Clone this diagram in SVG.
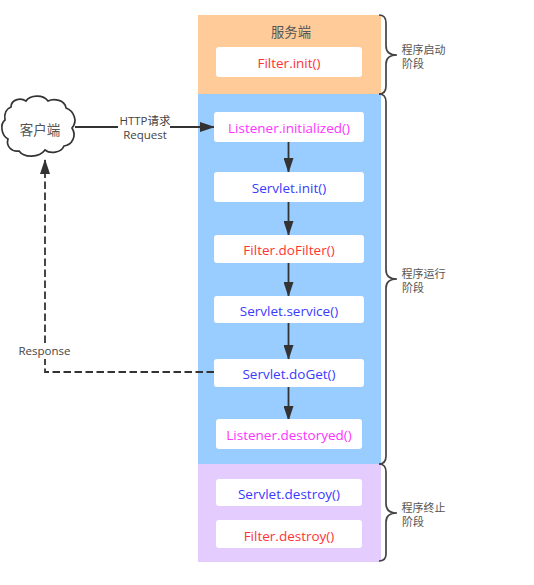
<svg xmlns="http://www.w3.org/2000/svg" width="534" height="585" viewBox="0 0 534 585">
<style>
text{font-family:"Open Sans","Noto Sans CJK SC",sans-serif;text-anchor:middle}
.m{font-size:13.5px}
.box{fill:#fff}
.r{fill:#ff3333}.p{fill:#ff33ff}.b{fill:#3a3aff}
.g{fill:#555;font-size:11px}
.d{fill:#444;font-size:11.5px}
.c{fill:none;stroke:#333;stroke-width:1.8}
.br{fill:none;stroke:#444;stroke-width:1.7}
</style>
<defs>
<marker id="a" markerUnits="userSpaceOnUse" markerWidth="15" markerHeight="10" refX="14" refY="5" orient="auto"><path d="M0 0L15 5L0 10z" fill="#333"/></marker>
</defs>
<g id="band-server"><rect x="198" y="15" width="183" height="79" fill="#ffcc99"/><text x="291" y="37" font-size="13.300" fill="#555">服务端</text></g>
<g id="band-run"><rect x="198" y="94" width="183" height="370" fill="#99ccff"/></g>
<g id="band-stop"><rect x="198" y="464" width="183" height="98" fill="#e5ccff"/></g>
<g id="connectors">
<path class="c" d="M75 127H214" marker-end="url(#a)"/>
<path class="c" d="M288.500 142V172" marker-end="url(#a)"/>
<path class="c" d="M288.500 202V235" marker-end="url(#a)"/>
<path class="c" d="M288.500 263V296" marker-end="url(#a)"/>
<path class="c" d="M288.500 323V359" marker-end="url(#a)"/>
<path class="c" d="M288.500 387V420" marker-end="url(#a)"/>
<path class="c" stroke-dasharray="7.500 3.500" d="M214 372H45V160" marker-end="url(#a)"/>
</g>
<g id="client"><path d="M11 107C11 100 20 97 26 101C30 95 43 94 48 101C54 98 65 100 66 108C74 111 78 121 72 128C77 136 72 145 64 146C61 153 50 154 45 150C39 158 24 158 19 151C11 152 6 146 8 139C1 135 0 124 5 120C4 114 6 109 11 107Z" fill="#fff" stroke="#333" stroke-width="1.7"/><text x="40" y="135" font-size="13.500" fill="#555">客户端</text></g>
<g id="label-http"><rect x="118" y="113" width="52" height="29" fill="#fff"/><text class="d" x="145" y="125">HTTP请求</text><text class="d" x="145" y="139">Request</text></g>
<g id="label-response"><rect x="18" y="343" width="53" height="16" fill="#fff"/><text class="d" x="44.500" y="355">Response</text></g>
<g id="filter-init"><rect class="box" x="216" y="47" width="146" height="30" rx="3"/><text class="m r" x="289" y="68">Filter.init()</text></g>
<g id="listener-init"><rect class="box" x="214" y="112" width="150" height="30" rx="3"/><text class="m p" x="289" y="133">Listener.initialized()</text></g>
<g id="servlet-init"><rect class="box" x="214" y="172" width="150" height="30" rx="3"/><text class="m b" x="289" y="193">Servlet.init()</text></g>
<g id="filter-dofilter"><rect class="box" x="214" y="235" width="150" height="28" rx="3"/><text class="m r" x="289" y="255">Filter.doFilter()</text></g>
<g id="servlet-service"><rect class="box" x="214" y="296" width="150" height="27" rx="3"/><text class="m b" x="289" y="316">Servlet.service()</text></g>
<g id="servlet-doget"><rect class="box" x="214" y="359" width="150" height="28" rx="3"/><text class="m b" x="289" y="379">Servlet.doGet()</text></g>
<g id="listener-destroyed"><rect class="box" x="216" y="419" width="146" height="30" rx="3"/><text class="m p" x="289" y="440">Listener.destoryed()</text></g>
<g id="servlet-destroy"><rect class="box" x="216" y="479" width="146" height="27" rx="3"/><text class="m b" x="289" y="499">Servlet.destroy()</text></g>
<g id="filter-destroy"><rect class="box" x="216" y="520" width="146" height="28" rx="3"/><text class="m r" x="289" y="541">Filter.destroy()</text></g>
<g id="brace-start"><path class="br" d="M379 15C384 15 386 18 386 23V46C386 51 389 55 397 55C389 55 386 59 386 64V86C386 91 384 94 379 94"/><text class="g" x="423.500" y="54">程序启动</text><text class="g" x="413" y="68">阶段</text></g>
<g id="brace-run"><path class="br" d="M379 94C384 94 386 97 386 102V270C386 275 389 279 397 279C389 279 386 283 386 288V456C386 461 384 464 379 464"/><text class="g" x="423.500" y="278">程序运行</text><text class="g" x="413" y="292">阶段</text></g>
<g id="brace-stop"><path class="br" d="M379 464C384 464 386 467 386 472V504C386 509 389 513 397 513C389 513 386 517 386 522V554C386 559 384 561 379 561"/><text class="g" x="423.500" y="512">程序终止</text><text class="g" x="413" y="526">阶段</text></g>
</svg>
